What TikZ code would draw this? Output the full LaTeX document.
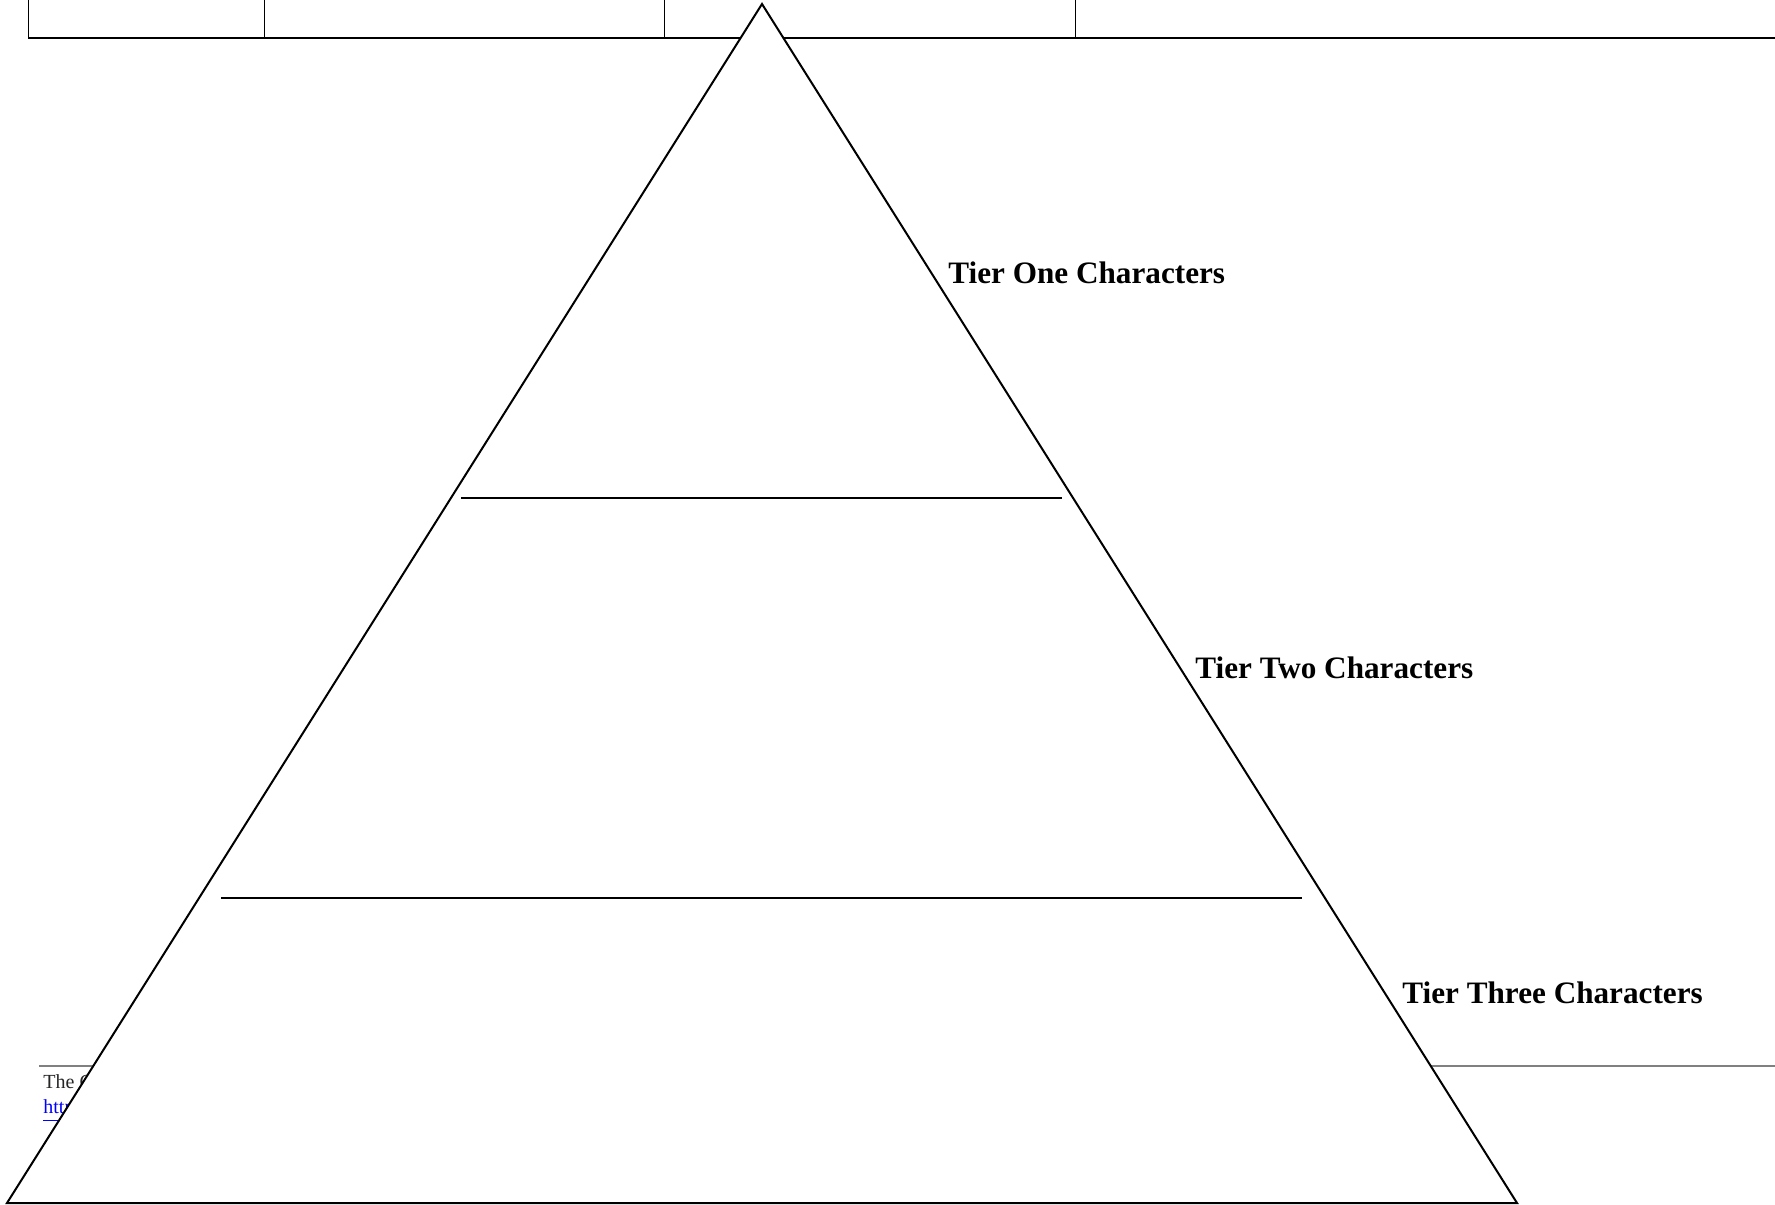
\documentclass[tikz,border=0pt]{standalone}
\usepackage{fontspec}
\setmainfont{Liberation Serif}
\begin{document}
\begin{tikzpicture}[x=0.5pt,y=-0.5pt,
  tierlabel/.style={anchor=base west,inner sep=0pt,font=\fontsize{15.6}{18}\selectfont\bfseries},
  footnote/.style={anchor=base west,inner sep=0pt,font=\fontsize{10}{12}\selectfont},
  tablerule/.style={line width=0.5pt,black},
  pyr/.style={line width=1pt,black,line join=miter}]
\useasboundingbox (0,0) rectangle (1775,1204);
% table at top
\draw[line width=1pt] (28,38.5) -- (1775,38.5);
\foreach \xx in {28,264,664,1075}{\draw[tablerule] (\xx,-2) -- (\xx,38.5);}
% footnote separator and footnote text
\draw[line width=0.7pt,black!50] (39,1066) -- (1775,1066);
\node[footnote,text=black!85] (foot1) at (43,1088) {The C};
\node[footnote,text=blue] (foot2) at (43,1113) {\underline{http}};
% pyramid
\draw[pyr,fill=white] (762,4) -- (7,1203) -- (1517,1203) -- cycle;
\draw[pyr] (461,498) -- (1062,498);
\draw[pyr] (221,898) -- (1302,898);
% labels
\node[tierlabel] (t1) at (948,283) {Tier One Characters};
\node[tierlabel] (t2) at (1195,678) {Tier Two Characters};
\node[tierlabel] (t3) at (1402,1003) {Tier Three Characters};
\end{tikzpicture}
\end{document}
